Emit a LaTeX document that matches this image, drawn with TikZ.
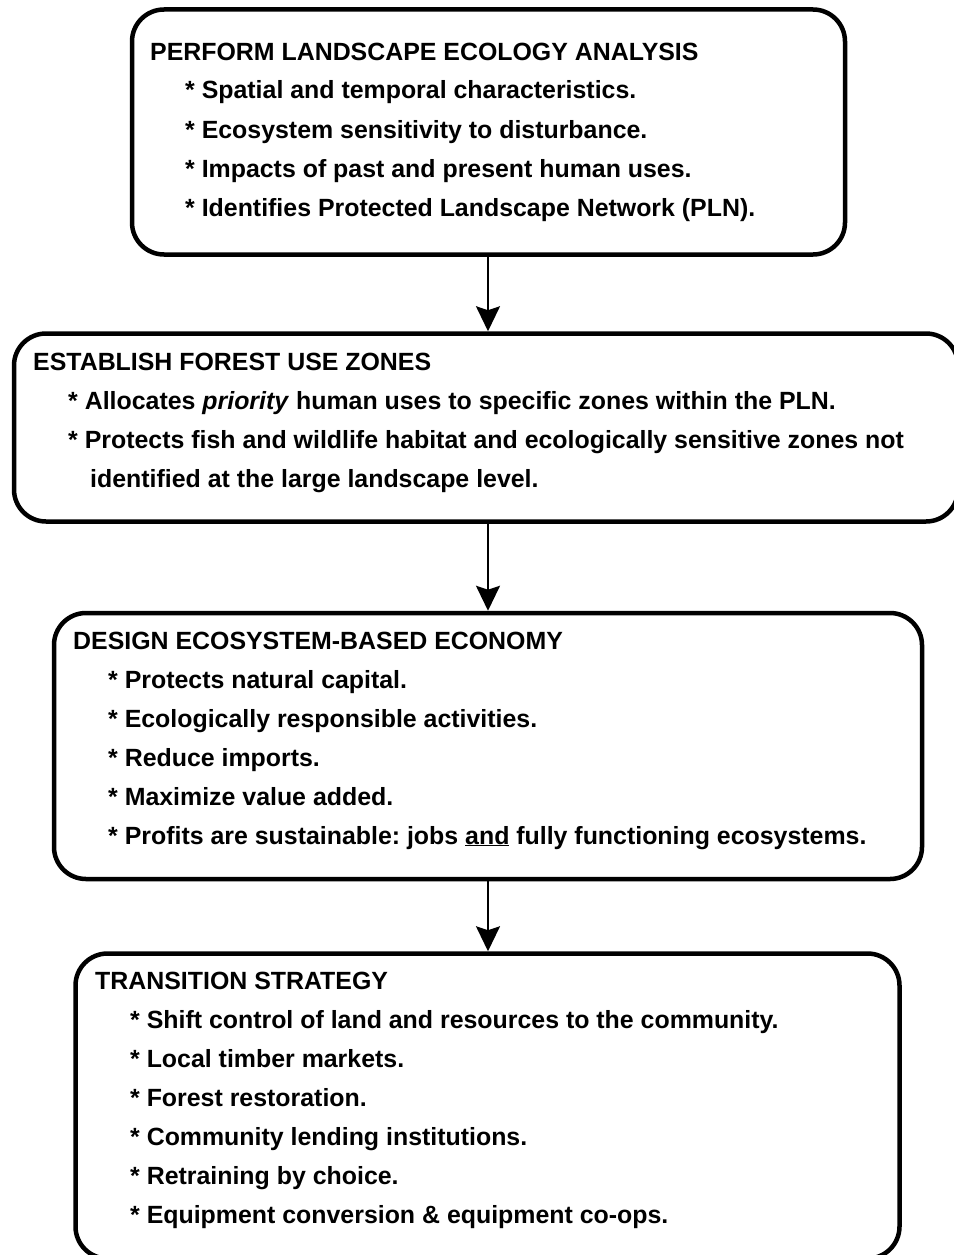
\documentclass[tikz,border=0pt]{standalone}
\usepackage{fontspec}
\setmainfont{Liberation Sans}
\usetikzlibrary{arrows.meta}
\frenchspacing
\begin{document}
\begin{tikzpicture}[x=1pt,y=-1pt,
  box/.style={draw, line width=4.5pt, rounded corners=32pt, inner sep=0pt},
  txt/.style={anchor=base west, inner sep=0pt, font=\fontsize{24.9}{39}\selectfont\bfseries},
  arr/.style={line width=2pt, -{Stealth[width=24pt,length=25pt,inset=4pt]}}]
\useasboundingbox (0,0) rectangle (953,1255);
\node[box, minimum width=713pt, minimum height=245pt] (b1) at (488.5,132) {};
\node[box, minimum width=944pt, minimum height=188pt] (b2) at (486,427.5) {};
\node[box, minimum width=868pt, minimum height=266pt] (b3) at (488,746) {};
\node[box, minimum width=824pt, minimum height=305pt] (b4) at (487.5,1106) {};
\coordinate (X) at (488,0);
\node[txt] (t1) at (150,60) {\parbox[t]{780pt}{\frenchspacing
PERFORM LANDSCAPE ECOLOGY ANALYSIS\\
\hspace*{35pt}* Spatial and temporal characteristics.\\
\hspace*{35pt}* Ecosystem sensitivity to disturbance.\\
\hspace*{35pt}* Impacts of past and present human uses.\\
\hspace*{35pt}* Identifies Protected Landscape Network (PLN).}};
\node[txt] (t2) at (33,370) {\parbox[t]{900pt}{\frenchspacing
ESTABLISH FOREST USE ZONES\\
\hspace*{35pt}* Allocates \textit{priority} human uses to specific zones within the PLN.\\
\hspace*{35pt}* Protects fish and wildlife habitat and ecologically sensitive zones not\\
\hspace*{57pt}identified at the large landscape level.}};
\node[txt] (t3) at (73,649) {\parbox[t]{860pt}{\frenchspacing
DESIGN ECOSYSTEM-BASED ECONOMY\\
\hspace*{35pt}* Protects natural capital.\\
\hspace*{35pt}* Ecologically responsible activities.\\
\hspace*{35pt}* Reduce imports.\\
\hspace*{35pt}* Maximize value added.\\
\hspace*{35pt}* Profits are sustainable: jobs \underline{and} fully functioning ecosystems.}};
\node[txt] (t4) at (95,989) {\parbox[t]{820pt}{\frenchspacing
TRANSITION STRATEGY\\
\hspace*{35pt}* Shift control of land and resources to the community.\\
\hspace*{35pt}* Local timber markets.\\
\hspace*{35pt}* Forest restoration.\\
\hspace*{35pt}* Community lending institutions.\\
\hspace*{35pt}* Retraining by choice.\\
\hspace*{35pt}* Equipment conversion \& equipment co-ops.}};
\draw[arr] (b1.south -| X) -- (b2.north -| X);
\draw[arr] (b2.south -| X) -- (b3.north -| X);
\draw[arr] (b3.south -| X) -- (b4.north -| X);
\end{tikzpicture}
\end{document}
